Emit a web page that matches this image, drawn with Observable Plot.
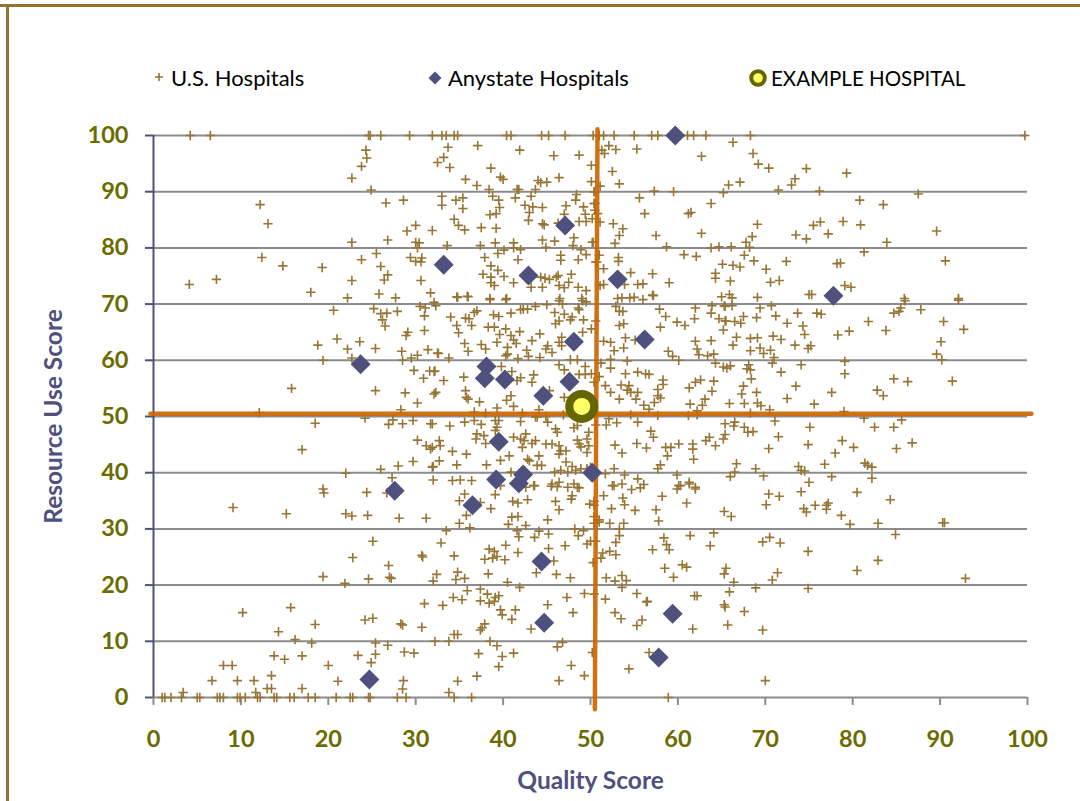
<!DOCTYPE html>
<html><head><meta charset="utf-8">
<script src="https://cdn.jsdelivr.net/npm/d3@7"></script>
<script src="https://cdn.jsdelivr.net/npm/@observablehq/plot@0.6"></script>
<style>
html,body{margin:0;padding:0;background:#fff}
#page{position:relative;width:1080px;height:801px;overflow:hidden;font-family:Lato,sans-serif}
#frameTop{position:absolute;left:0;top:4px;width:1080px;height:3px;background:#947233}
#frameLeft{position:absolute;left:6px;top:4px;width:2.5px;height:797px;background:#947233}
#legend{position:absolute;left:0;top:0;width:1080px;height:100px;z-index:2}
#legend span{position:absolute;top:65px;font-size:22px;line-height:26px;color:#000;white-space:nowrap}
#legend svg{position:absolute;overflow:visible}
#chart{position:absolute;left:0;top:0}
</style></head><body>
<div id="page">
<div id="chart"></div>
<div id="frameTop"></div><div id="frameLeft"></div>
<div id="legend">
<svg style="left:159px;top:77px" width="1" height="1"><path d="M-4,0H4M0,-4V4" stroke="#967535" stroke-width="1.6" fill="none"/></svg>
<span style="left:171px">U.S. Hospitals</span>
<svg style="left:435px;top:78px" width="1" height="1"><path d="M0,-6.5L6.5,0L0,6.5L-6.5,0Z" fill="#50507e"/></svg>
<span style="left:448px">Anystate Hospitals</span>
<svg style="left:758px;top:78px" width="1" height="1"><circle r="6.8" fill="#ffff66" stroke="#666600" stroke-width="4"/></svg>
<span style="left:771px;font-size:20.5px">EXAMPLE HOSPITAL</span>
</div>
</div>
<script>
const ticks = [0,10,20,30,40,50,60,70,80,90,100];
const topRow = [4.2,6.5,24.6,24.8,26,29.3,31.9,33,33.5,34.4,34.8,40.4,40.9,44.4,45.2,47.1,50.3,51,51.5,52.7,55,57,57.7,61.1,61.8,63.2,68.3,99.7];
const zeroRow = [1,1.3,2,3.2,5,5.3,7.3,7.6,8,9.6,9.9,10.5,11.9,12.2,13.8,14.1,15.6,16.1,17.7,18.5,20.9,22.5,22.8,24.6,24.8,27.9,28.9,34.4,36.4,58.9];
const usUpper = [
[24.3,97.4],[24.4,96],[23.8,94.5],[22.7,92.4],[24.9,90.3],[26.6,88],[28.6,88.5],[33.7,97.9],[33.2,96.1],[32.5,95.2],[33.9,94.3],[37.1,98.2],[41.9,97.4],[45.8,96.4],[48.7,96.5],[50.1,94.7],[38.6,94.2],[35.7,92.2],[37,91.1],[38.4,90.4],[39.7,92.6],[40,92.2],[41.6,90.4],[41.8,90.4],[43.7,90.4],[44,92],[44.3,91.6],[45,91.7],[46.4,92.5],[50.1,91.8],[33,89.2],[33,87.6],[34.6,88.5],[35.4,88.9],[35.4,87],[38.8,89.2],[39.5,88.5],[39.6,87.2],[38.5,85.9],[39.2,86.1],[41.4,88.9],[43.2,89.2],[42.5,87.6],[43.4,87.3],[44.5,87.2],[43,86.3],[42.9,84.9],[47.2,87.5],[47,86],[48.4,89.5],[48.3,88.5],[49.2,87.3],[49.4,86],[50.5,90],[48.7,84.7],[49.5,84.7],[50.2,85.2],[50.4,87.9],[50.5,86.7],[44.7,84.1],[44.5,84.3],[46.3,84.4],[34.4,85.1],[34.9,84],[35.6,83.2],[30,84],[29,83],[31.9,83.1],[37.5,83.6],[39.2,83.5],[22.7,81],[26.8,81.4],[30,81],[30.4,80.9],[30.2,80],[33.6,80.4],[37.4,80.4],[39.1,80.9],[41.2,80.9],[44.5,81.4],[45.9,81.2],[48.1,81.8],[48,80.4],[50.2,81],[41.2,80],[42,79.7],[40.1,79.6],[39.4,79],[44.9,80.1],[48.9,79.7],[49.5,78.8],[25.5,79],[23.8,77.9],[29.4,78.3],[30,77.6],[30.7,78.2],[30.6,77.5],[37.9,78.3],[41.7,77.9],[46.6,78.7],[46.6,77.8],[48.6,77.9],[50.7,77.5],[26,76.7],[26.8,75.2],[26.4,74.3],[22.7,74.2],[30.6,74.2],[38.6,76.8],[39.4,76],[37.7,75.3],[38.6,74.8],[40.1,74.9],[38.6,73.8],[39,73.3],[41.2,73.8],[44.3,74.8],[44.8,74.6],[45.3,74.4],[46.1,74.8],[46.3,75.1],[47.8,75.3],[47.5,73.9],[46.4,73.3],[47,72.9],[48.6,73],[49.5,72.4],[43.2,73],[44.5,73],[25.8,71.8],[31.7,72],[34.7,71.3],[35.9,71.4],[27.7,71.1],[22.2,71.1],[38.5,71],[40.4,71],[46.5,71],[49,71],
[12.2,87.7],[13.1,84.3],[12.4,78.3],[14.8,76.8],[19.3,76.5],[18,72.1],[4.1,73.5],[7.2,74.4],
[66.3,98.8],[68.6,96.8],[62.7,96.3],[69.2,94.9],[70.4,94.2],[74.7,94.1],[79.3,93.3],[73.4,92.3],[73,91.2],[67.1,91.7],[65.8,91.2],[65.2,89.8],[71.5,90.3],[76.2,90.1],[59.5,90],[57.3,90.1],[55.6,88.9],[63.8,87.9],[80.8,88.5],[83.5,87.7],[56.2,86.1],[61.2,86.1],[61.5,86.3],[69.1,84.2],[76.3,84.6],[75.5,84],[78.9,84.7],[80.9,84.1],[52.6,84.3],[53.7,83.4],[53.3,82.2],[52.8,80.8],[57.5,82.2],[62.7,82.6],[68.5,82],[73.5,82.3],[74.7,81.6],[77.2,82.5],[83.9,81],[67.8,81],[68.2,80.1],[58.7,80.2],[63.8,80],[64.7,80.2],[66.1,80.2],[60.7,78.8],[62.1,78.5],[67.6,78.7],[81.3,79.3],[68.7,77.7],[65.1,77.1],[66.3,76.9],[67.1,76.6],[72.4,77.6],[70.1,76.2],[78.2,77.2],[78.6,77.3],[64.3,75.5],[64.3,74.6],[66,74.1],[70.6,73.9],[71.6,74.2],[79.1,73.3],[79.8,73],[57.1,75.4],[54.6,75.6],[51.5,76.3],[53.2,78.3],[53.2,77.6],[51,78.7],[50.6,77.5],[59,73.8],[55.4,73.5],[56,73.6],[53.9,73.5],[51.1,73.3],[51.5,73.5],[57.1,71.6],[53.1,71],[53.6,71.1],[54.5,71.1],[55,71.2],[56,70.8],[65,71.3],[65.9,71.7],[66.2,71.1],[69.1,71.2],[75,71.7],[75.3,71.7],[52.1,98.2],[52.9,97.5],[51.3,97.4],[51.6,96.8],[55.3,97.6],[52.5,93.6],[53.3,91.4],[51.1,91],[50.4,90],[50.5,87.9],[50.8,86.1],[51.1,84.6],[50.3,81],[87.5,89.6],[89.6,83],[90.6,77.7],[85.9,71],[92.1,71]
];
const usRight = [
[86,70.6],[92.1,70.7],[65.4,69.6],[66.2,69.7],[69.4,69.3],[70.7,69.7],[85.5,69.3],[85.3,68.7],[84.7,68.4],[87.8,69],[73.7,68.4],[75.9,68.4],[76.4,68.2],[71.2,67.9],[69,67.6],[67.5,67.8],[65.4,67],[66.5,66.9],[67.2,66.6],[72.5,66.6],[74.3,66.1],[81.8,66.9],[90.4,66.9],[79.6,65.2],[83.8,65.3],[92.7,65.5],[74.5,64.6],[78.3,64.5],[65.2,65.4],[66.7,64.1],[68.3,63.9],[69.1,64],[70.9,64.3],[71.8,63.7],[90.1,63.3],[66.3,62.7],[73.4,62.7],[75.2,62.6],[74.9,62.1],[68.3,61.7],[69.4,62.2],[69.8,61.2],[70.6,61.8],[71,60.5],[89.6,61.1],[90.2,60.1],[79.1,59.8],[70.8,59.5],[74.1,59.2],[65.2,58.8],[65.6,58.6],[66,59],[68.1,59.2],[67.9,58.5],[68.3,58.3],[71.8,57.9],[79.1,57.6],[68.4,56.7],[84.7,56.7],[86.3,56.2],[91.4,56.3],[67.5,55.4],[73.5,55.4],[69,54.3],[67.3,54],[77.6,54.3],[82.8,54.7],[83.5,53.7],[72.5,53.2],[65.9,52.3],[67.6,52.3],[75.6,52.2],[69.1,52.4],[69.5,51.9],[70.5,51.2],[68.3,50.6],[79,50.9],[81.3,49.7],[85.6,49.4],[71.1,49.2],[66.5,49],[65.4,48.7],[66.4,48.3],[67.6,48.1],[68,47.2],[68.6,47.3],[75.1,48.1],[82.5,48.1],[84.7,48.1],[71.5,46.4],[65.4,46.8],[65.2,46],[78.8,45.7],[86.8,45.3],[74.9,45],[70.4,44.3],[80.1,44.5],[85,44.3],[78,43.5],[66.7,41.6],[76.8,41.5],[73.8,41.1],[74.1,40.4],[74.5,40.3],[81.4,41.7],[81.7,41.3],[82.2,41],[68.9,40.7],[66.5,40.1],[66,39.3],[69.8,39.4],[77.6,39.3],[82.2,39],[75,38.3],
[74.1,36.6],[80.5,36.5],[70.4,36.2],[71.6,35.8],[70.1,34.3],[84.3,35.2],[74.4,33.6],[74.7,33],[75.7,34.2],[77.2,34.6],[77,34.2],[77,33.5],[78.7,32.4],[65.3,33.1],[66.1,32.2],[79.7,30.8],[82.9,31],[90.3,31.1],[90.5,31.1],[84.9,29],[70.5,28.5],[69.7,27.7],[71.7,27.5],[74.9,26],[82.9,24.4],[80.5,22.6],[65.5,23],[65.3,22],[71.4,22.2],[70.8,20.9],[66.4,20.5],[92.9,21.2],[74.9,19.4],[68.9,19.5],[65.9,18.8],[65.3,16.5],[65.4,16.1],[67.6,15.3],[65.7,12.9],[69.7,12],[70,3]
];
const usCenter = [
[34.8,71.2],[36,71.3],[38.5,70.8],[40.3,70.8],[32.1,70.3],[32.3,69.7],[42,69],[42.3,69.1],[42.8,69.1],[43.7,69.6],[45,69.9],[46.4,70.6],[46.8,70],[48.6,69.3],[49.1,70.6],[49.5,70.4],[52.9,69.6],[53.3,68.7],[53.7,68.7],[57.2,71.5],[57.9,69.1],[62,69.3],[63.9,69.7],[63.8,68.4],[65.3,69.7],[58.6,67.8],[34,67.7],[35.7,67.5],[36.1,67.4],[36.7,68.5],[37,68.8],[38.9,68.1],[39.5,67.8],[40.9,68.4],[45.9,68.5],[47,68.2],[48.7,69],[47.9,67.7],[47.7,67.2],[49.2,67.2],[50.6,67],[46.4,67],[46,66.5],[59.9,66.8],[60.8,66.2],[61.9,67.4],[64.7,67.4],[65.5,67],[58,65.9],[53.8,66.5],[53.3,66.2],[34.7,66.2],[34.9,64.9],[36.4,66.2],[38.3,65.9],[39,65.9],[40.3,65.6],[41.9,65.1],[44.2,64.7],[39.6,64.6],[40.9,64.4],[41.2,63.6],[41.5,63],[43.3,63.5],[39.3,63.2],[35.6,63],[37.5,62.8],[38,62],[36,61.6],[49.1,65],[50.1,65.6],[46.7,64.1],[46.4,63.2],[45.1,62.6],[44.9,62],[45.6,61.4],[46.7,62.6],[40.5,62.3],[40.5,61.1],[40.3,60.8],[42.7,61.8],[42.9,60.7],[44.2,60.5],[41.7,60.3],[32.6,61.2],[33.8,60.4],[51.5,63.4],[52.3,63.2],[52.7,61.7],[54,64],[53.8,62.2],[55.1,63.6],[58.9,61.6],[59.4,60.7],[60.1,60],[62,63.4],[63.8,63.5],[62.2,62],[62.4,61],[63.4,60.8],[64.1,61.1],[47.7,60.1],[48.5,60.1],[52.3,60.2],[54.2,59.9],[51.2,59.5],[46.4,59.2],[47,58.3],[49.4,58.9],[52.3,58.6],[64.3,59.5],[39.8,58.9],[32.1,58],[35.5,57],[33.2,56.4],[41,58],[43.5,57.4],[43.3,56.1],[42,56.9],[41.6,56.4],[48.7,57.5],[49.4,57.5],[50.1,57.6],[51,57.1],[50.4,56.1],[54,57.6],[55.4,57.9],[56.3,57.6],[56.7,57.5],[58.3,56.5],[58.3,55.7],[51.7,55.5],[53.5,55.6],[54.4,55.5],[54.2,54.7],[54.6,54.3],[52.3,54.3],[55.4,54.3],[55.2,53.1],[53.3,53.1],[57.7,54.8],[57.7,53.7],[58,53.3],[57.3,52.5],[56.1,52],[56.7,51.3],[61.3,55.1],[62,56.1],[62.6,56.5],[64.1,56.3],[63.9,54.5],[61.4,52.2],[62.2,51],[62.8,52],[63.1,53.1],[32.3,54.3],[32.1,54],[35.7,54.6],[35.8,53.4],[36,53.1],[37.3,52.6],[40.9,53.7],[40.4,52.9],[41.2,51.8],[39.3,51.5],[45.3,54.6],[47,53.4],[36.7,50.8],[38,50.6],[42.2,50.6],[44.1,51.2],[43.7,49.9],[43.9,49.9],[44.9,50],[45.1,49],[46.9,50.3],[54.6,50.3],[57.7,50.2],[61.2,50.2],[62.2,50.3],[50.6,48.5],[52.1,49.6],[51.8,48.5],[53,48.9],[55.4,49],[31.9,48.7],[33.9,48.3],[35.6,49],[36.7,49.3],[37.5,48.6],[39.1,49.3],[39.5,49.3],[39.3,48.1],[39.1,47.5],[42,49.1],[46,47.8],[46.2,47.2],[48.5,48.4],[48.1,48],[56.9,47.4],[57.2,46.3],[37,46.9],[37.8,46.6],[36.9,46],[38,45.2],[41.2,46.3],[42,46],[42.6,46.9],[42.4,45.7],[43.7,45.7],[43.3,45.2],[42.2,44.5],[32.7,45.7],[32.8,44.8],[31.9,44.5],[34.2,43.8],[35.8,43.3],[40.7,43],[39.7,42.2],[32.7,42.1],[31.9,41],[34.7,41.4],[38.1,41.4],[44.1,43],[42.8,42.4],[43,42.1],[43.9,41.3],[44.4,41.3],[44.9,45.1],[45.6,45.1],[46.4,44.8],[46.6,43.9],[47.2,43.9],[46.4,43.3],[48.5,45.8],[48.7,45.1],[48.9,44.6],[49.8,47.2],[49.6,46],[49.8,44.8],[49.6,43.6],[47.2,41.9],[49.6,40.7],[50,41],[45.9,40.1],[46.6,40.4],[47.4,40.1],[48.3,40.4],[47.9,41.1],[48.9,40.7],[52.8,44.9],[53.6,43.5],[55.3,45.2],[56.4,44.4],[58.6,44.5],[59.2,44.5],[60.1,45.1],[58.8,43],[61.7,45.1],[61.7,44.2],[61.8,42.4],[63.2,45.7],[63.6,46.3],[64.3,44.8],[52.7,40.7],[51.7,39.8],[57.7,40.7],[58,41.4],[59.9,39.6],[61.3,38.3],[62,37.4],[60.3,37.7],[59.9,37.1],[53.9,39.6],[55.4,38.9],[52.5,37.7],[53.6,38],[40.9,40.1],[45.6,38],[46.4,38.3],[43.5,37.7],[34.2,38.6],[35.1,38.7],[36.4,38.6],[32,38.7],[48.1,38],[48.5,37.4],[47.4,37.4]
];
const usLowerCenter = [
[39.7,37.7],[42.6,37.4],[43.6,37.7],[45.5,37.6],[46.2,37.5],[48.7,37.3],[51.5,35.9],[52.7,37.7],[54.7,37],[55.7,37.3],[56.1,37.9],[60.1,37.7],[61.3,38],[62,37.1],[58.2,35.8],[53.7,35.5],[53.9,34.3],[35.6,36.2],[39.1,36.1],[35,35],[37.4,34.7],[41.1,34.9],[41.7,34.6],[42.8,35.2],[46,34.9],[47.9,35.9],[47.8,35.3],[49.9,34.4],[50.4,34.9],[50.4,34.2],[38.6,33.6],[46.4,33.4],[52.4,33.6],[55.1,33.3],[57.5,33.4],[61,34.6],[35.8,32.4],[41,32.1],[41.7,32.2],[35,31],[36.2,30.2],[40.6,30.8],[42.6,30.6],[45.1,31.6],[50.4,32.2],[51,31.6],[50.4,31],[51,31.2],[52.2,31],[53.8,31],[53.3,30],[53.3,28.8],[57.8,31.4],[33.5,29.7],[41.6,29.7],[41.8,28.6],[44.1,29.6],[43.6,28.5],[45.2,29.1],[48.2,30],[48.6,28.8],[49.2,29.7],[49.6,27.3],[50,27.8],[50.6,27.8],[47.1,27],[32.9,27.5],[40.3,27.1],[52.9,27.6],[58.4,28.4],[58.7,27.2],[59,26.3],[61.4,28.8],[64.1,29.3],[63.7,27],[57.1,26.3],[38.4,26.4],[39,26],[38.8,24.8],[39.3,25.1],[37.9,24.6],[40.2,24.5],[41.7,25.8],[34.4,25.2],[45.2,26.5],[51.4,25.7],[51.2,24.8],[52.2,26],[52.9,25.4],[45.8,24.3],[50.3,24],[58.5,23],[60.5,23.6],[61,23.2],[32.4,21.9],[32,20.7],[34.8,22.3],[34.6,21],[35.6,21.2],[38.3,22],[40.5,20.5],[43.8,22.2],[46.1,21.9],[47.7,21.3],[51.8,21.3],[52.8,20.7],[53.6,21.7],[54.1,20.8],[53.6,19.6],[59.5,21.4],[41.9,19.6],[35.9,19],[37.4,19.3],[38.2,18.4],[39.5,18.1],[39.1,17.8],[39,17.1],[38.4,16.8],[37.4,17.2],[34.3,17.8],[35.3,17.4],[33.1,16.4],[39.7,15.6],[39.9,14.7],[41.4,15.6],[41,13.9],[47.3,17.8],[49.3,18.5],[50.4,18.4],[51.7,17.5],[55.3,18.5],[56.4,17],[56.5,17.1],[61.9,18.1],[62.2,18.1],[45.1,16.5],[48,15.1],[52.8,15.1],[53.5,14],[55.9,13.8],[55.3,12.8],[61.7,12.2],[37.9,13.1],[37.6,12.4],[37.4,12],[43.2,12.2],[34.4,11.2],[34.8,11.2],[32.2,10],[33.8,10],[38.5,10],[39.3,9.2],[46.8,9.8],[46.2,9],[37.2,7.8],[39.9,7.3],[41.2,7.9],[50.2,8],[56.7,8],[47.8,5.7],[39.5,5.5],[54.4,5.1],[37,3.8],[34.8,2.9],[46.4,3],[49.3,3.9],[33.8,0.9]
];
const usLeft = [
[20.6,68.9],[25.2,69.2],[26,68.3],[26.7,68.4],[26.2,67.2],[26.5,66.1],[27.9,68.7],[30.5,69.6],[31.1,69.3],[31,67.9],[31,65.3],[29.1,65],[28.9,64.4],[21,63.8],[23.6,63.3],[18.8,62.7],[22.2,62],[25.4,62.1],[28.4,61.6],[31.4,61.9],[32.5,61.3],[19.4,60],[22.7,60.4],[28.5,60],[29.5,60.4],[30.2,60.9],[29.8,58.2],[31.6,58.1],[32.2,58.1],[30.9,56.8],[15.8,55],[25.4,54.6],[28.8,54.2],[30.2,52.4],[28.3,51.2],[12.1,50.7],[24.2,49.7],[27.4,49.4],[26.9,48.6],[28.5,48.7],[29.7,49.3],[31.7,48.7],[18.5,48.8],[30.2,45.8],[31.2,44.8],[31.7,44.2],[17,44.1],[29.7,42],[26,40.6],[28,41.2],[32,41.1],[22,39.9],[27.3,39.1],[19.4,37.1],[19.5,36.4],[24.4,36.5],[26.7,36.4],[9.1,33.8],[15.2,32.7],[22,32.7],[22.7,32.3],[24.5,32.4],[28.1,31.9],[31.2,31.9],[25.1,27.8],[22.8,24.9],[30.7,25.3],[30.8,25],[26.9,23.5],[27,21.4],[27.2,21.2],[24.6,21.1],[19.4,21.5],[21.9,20.3],[10.2,15.1],[15.7,16],[31,16.7],[24.2,13.8],[25.1,14.1],[18.5,13],[14.3,11.7],[28.3,13.1],[28.5,12.9],[30.7,12.5],[16.2,10.3],[18.1,9.7],[25.4,9.7],[26.8,9.3],[13.8,7.4],[15,6.8],[17,7.4],[23.4,7.5],[25.4,7.7],[28.7,8.1],[29.8,7.9],[8,5.7],[9,5.7],[20,5.7],[24.9,6.2],[13.5,3.9],[6.7,3],[9.6,3],[11.5,3],[21.1,2.9],[28.6,3],[28.5,1.5],[17,1.6],[13,1.6],[13.5,1.6],[11.7,0.9],[3.4,0.9]
];
const anystate = [[59.7,100],[47.1,84],[33.2,77],[42.9,75.1],[53.1,74.4],[77.8,71.5],[56.2,63.7],[48.1,63.3],[23.7,59.3],[38.1,58.9],[37.9,56.8],[40.2,56.6],[47.6,56.2],[44.6,53.7],[39.5,45.5],[39.2,38.8],[41.8,38.1],[42.3,39.7],[50.2,40],[27.6,36.8],[36.5,34.2],[44.4,24.2],[44.7,13.3],[59.4,14.9],[57.8,7.1],[24.7,3.2]];
const example = [[49,51.8]];
const medianQuality = [[50.8,101.1],[50.5,-2.1]];
const medianResource = [[-0.35,50.5],[100.45,50.5]];

const us = [...topRow.map(x=>[x,100]),...zeroRow.map(x=>[x,0]),...usUpper,...usRight,...usCenter,...usLowerCenter,...usLeft];
const px = d=>d[0], py = d=>d[1];
const olive="#6b6b00", purple="#50507e", brown="#967535", orange="#cc6600", gray="#8c8c8c";

const plot = Plot.plot({
  width:1080,height:801,
  marginLeft:153,marginRight:53,marginTop:135,marginBottom:104,
  style:{fontFamily:"Lato, sans-serif",background:"transparent"},
  x:{domain:[0,100]},
  y:{domain:[0,100]},
  marks:[
    Plot.ruleY(ticks,{x1:0,x2:100,stroke:gray,strokeWidth:2}),
    Plot.axisY({ticks,anchor:"left",tickSize:8,tickPadding:17,stroke:purple,strokeWidth:2,fill:olive,fontSize:23.5,fontWeight:"bold",label:null,tickFormat:d=>String(d)}),
    Plot.axisX({ticks,anchor:"bottom",tickSize:8,tickPadding:25,stroke:gray,strokeWidth:2,fill:olive,fontSize:23.5,fontWeight:"bold",label:null,tickFormat:d=>String(d)}),
    Plot.ruleX([0],{y1:0,y2:100,stroke:purple,strokeWidth:2}),
    Plot.dot(us,{x:px,y:py,symbol:"plus",r:3.1,stroke:brown,strokeWidth:1.6,fill:"none"}),
    Plot.line(medianQuality,{x:px,y:py,stroke:orange,strokeWidth:4.5,strokeOpacity:0.92,clip:false}),
    Plot.line(medianResource,{x:px,y:py,stroke:orange,strokeWidth:4.5,strokeOpacity:0.92,clip:false}),
    Plot.dot(anystate,{x:px,y:py,symbol:"diamond2",r:9,fill:purple,stroke:"none"}),
    Plot.dot(example,{x:px,y:py,r:12.5,fill:"#ffff66",stroke:"#666600",strokeWidth:8}),
    Plot.axisX({ticks:[],anchor:"bottom",label:"Quality Score",labelAnchor:"center",labelOffset:91,labelArrow:"none",fill:purple,fontSize:24.5,fontWeight:"bold"}),
    Plot.axisY({ticks:[],anchor:"left",label:"Resource Use Score",labelAnchor:"center",labelOffset:109,labelArrow:"none",fill:purple,fontSize:24.5,fontWeight:"bold"})
  ]
});
document.getElementById("chart").append(plot);
</script>
</body></html>
